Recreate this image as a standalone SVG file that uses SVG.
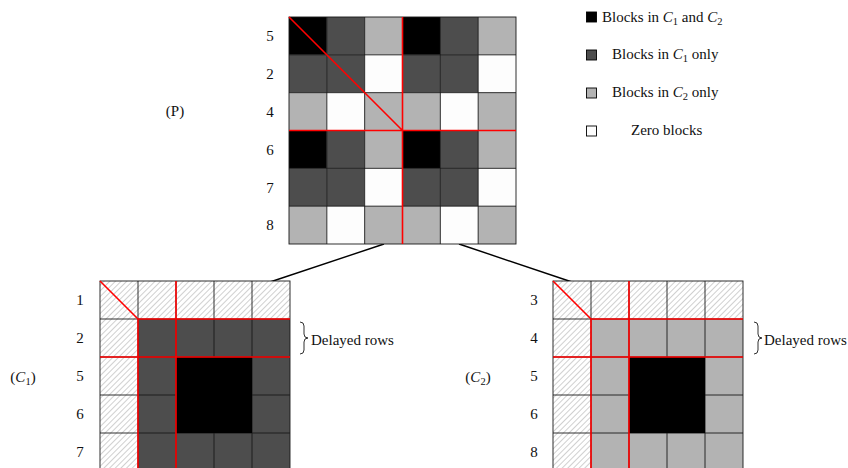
<svg xmlns="http://www.w3.org/2000/svg" width="848" height="468" viewBox="0 0 848 468">
<style>
text{font-family:"Liberation Serif","DejaVu Serif",serif;font-size:15px;fill:#111}
.lab{text-anchor:middle}
.it{font-style:italic}
.sub{font-size:10.5px}
.blk{fill:#000}
.drk{fill:#4d4d4d}
.lgt{fill:#b3b3b3}
.wht{fill:#fdfdfd}
.grid{stroke:#1a1a1a;stroke-width:0.9;fill:none}
.red{stroke:#f00;stroke-width:1.6;fill:none}
.conn{stroke:#000;stroke-width:1.4;fill:none}
.sq{stroke:#000;stroke-width:0.9}
</style>
<defs>
<pattern id="hatch" patternUnits="userSpaceOnUse" width="4" height="4" patternTransform="rotate(45)">
<rect width="4" height="4" fill="#fff"/>
<line x1="0" y1="0" x2="0" y2="4" stroke="#8a8a8a" stroke-width="0.8"/>
</pattern>
</defs>

<g id="connectors">
<line class="conn" x1="384" y1="244" x2="270" y2="282"/>
<line class="conn" x1="459" y1="244" x2="572" y2="282"/>
</g>

<g id="P">
<rect class="blk" x="289" y="17" width="37.83" height="37.83"/>
<rect class="drk" x="326.83" y="17" width="37.83" height="37.83"/>
<rect class="lgt" x="364.67" y="17" width="37.83" height="37.83"/>
<rect class="blk" x="402.5" y="17" width="37.83" height="37.83"/>
<rect class="drk" x="440.33" y="17" width="37.83" height="37.83"/>
<rect class="lgt" x="478.17" y="17" width="37.83" height="37.83"/>

<rect class="drk" x="289" y="54.83" width="37.83" height="37.83"/>
<rect class="drk" x="326.83" y="54.83" width="37.83" height="37.83"/>
<rect class="wht" x="364.67" y="54.83" width="37.83" height="37.83"/>
<rect class="drk" x="402.5" y="54.83" width="37.83" height="37.83"/>
<rect class="drk" x="440.33" y="54.83" width="37.83" height="37.83"/>
<rect class="wht" x="478.17" y="54.83" width="37.83" height="37.83"/>

<rect class="lgt" x="289" y="92.67" width="37.83" height="37.83"/>
<rect class="wht" x="326.83" y="92.67" width="37.83" height="37.83"/>
<rect class="lgt" x="364.67" y="92.67" width="37.83" height="37.83"/>
<rect class="lgt" x="402.5" y="92.67" width="37.83" height="37.83"/>
<rect class="wht" x="440.33" y="92.67" width="37.83" height="37.83"/>
<rect class="lgt" x="478.17" y="92.67" width="37.83" height="37.83"/>

<rect class="blk" x="289" y="130.5" width="37.83" height="37.83"/>
<rect class="drk" x="326.83" y="130.5" width="37.83" height="37.83"/>
<rect class="lgt" x="364.67" y="130.5" width="37.83" height="37.83"/>
<rect class="blk" x="402.5" y="130.5" width="37.83" height="37.83"/>
<rect class="drk" x="440.33" y="130.5" width="37.83" height="37.83"/>
<rect class="lgt" x="478.17" y="130.5" width="37.83" height="37.83"/>

<rect class="drk" x="289" y="168.33" width="37.83" height="37.83"/>
<rect class="drk" x="326.83" y="168.33" width="37.83" height="37.83"/>
<rect class="wht" x="364.67" y="168.33" width="37.83" height="37.83"/>
<rect class="drk" x="402.5" y="168.33" width="37.83" height="37.83"/>
<rect class="drk" x="440.33" y="168.33" width="37.83" height="37.83"/>
<rect class="wht" x="478.17" y="168.33" width="37.83" height="37.83"/>

<rect class="lgt" x="289" y="206.17" width="37.83" height="37.83"/>
<rect class="wht" x="326.83" y="206.17" width="37.83" height="37.83"/>
<rect class="lgt" x="364.67" y="206.17" width="37.83" height="37.83"/>
<rect class="lgt" x="402.5" y="206.17" width="37.83" height="37.83"/>
<rect class="wht" x="440.33" y="206.17" width="37.83" height="37.83"/>
<rect class="lgt" x="478.17" y="206.17" width="37.83" height="37.83"/>

<path class="grid" d="M326.83,17V244M364.67,17V244M440.33,17V244M478.17,17V244M289,54.83H516M289,92.67H516M289,168.33H516M289,206.17H516"/>
<rect class="grid" x="289" y="17" width="227" height="227"/>
<path class="red" d="M402.5,17V244M289,130.5H516M289,17L402.5,130.5"/>
<text class="lab" x="270" y="41">5</text>
<text class="lab" x="270" y="79">2</text>
<text class="lab" x="270" y="116.5">4</text>
<text class="lab" x="270" y="154.5">6</text>
<text class="lab" x="270" y="192.5">7</text>
<text class="lab" x="270" y="230">8</text>
<text class="lab" x="175" y="116">(P)</text>
</g>

<g id="legend">
<rect class="sq blk" x="586.5" y="12" width="10" height="10"/>
<text x="602" y="21.5">Blocks in <tspan class="it">C</tspan><tspan class="sub" dy="3">1</tspan><tspan dy="-3"> and </tspan><tspan class="it">C</tspan><tspan class="sub" dy="3">2</tspan></text>
<rect class="sq drk" x="586.5" y="50" width="10" height="10"/>
<text x="612" y="59">Blocks in <tspan class="it">C</tspan><tspan class="sub" dy="3">1</tspan><tspan dy="-3"> only</tspan></text>
<rect class="sq lgt" x="586.5" y="88" width="10" height="10"/>
<text x="612" y="96.5">Blocks in <tspan class="it">C</tspan><tspan class="sub" dy="3">2</tspan><tspan dy="-3"> only</tspan></text>
<rect class="sq wht" x="586.5" y="126" width="10" height="10"/>
<text x="631" y="135">Zero blocks</text>
</g>

<g id="C1">
<rect fill="url(#hatch)" x="100" y="281" width="190" height="38"/>
<rect fill="url(#hatch)" x="100" y="319" width="38" height="152"/>
<rect class="drk" x="138" y="319" width="152" height="152"/>
<path class="grid" d="M138,281V471M176,281V471M214,281V471M252,281V471M100,319H290M100,357H290M100,395H290M100,433H290"/>
<rect class="blk" x="176" y="357" width="76" height="76"/>
<rect class="grid" x="100" y="281" width="190" height="190"/>
<path class="red" d="M100,281L138,319M138,319H290M100,357H290M138,319V471M176,281V471"/>
<path class="grid" d="M300,322q4,0 4,4v8q0,4 4,4q-4,0 -4,4v8q0,4 -4,4" stroke-width="1"/>
<text x="311" y="345">Delayed rows</text>
<text class="lab" x="80" y="305">1</text>
<text class="lab" x="80" y="343">2</text>
<text class="lab" x="80" y="381">5</text>
<text class="lab" x="80" y="419">6</text>
<text class="lab" x="80" y="457">7</text>
<text class="lab" x="23" y="382">(<tspan class="it">C</tspan><tspan class="sub" dy="3">1</tspan><tspan dy="-3">)</tspan></text>
</g>

<g id="C2">
<rect fill="url(#hatch)" x="553" y="281" width="190" height="38"/>
<rect fill="url(#hatch)" x="553" y="319" width="38" height="152"/>
<rect class="lgt" x="591" y="319" width="152" height="152"/>
<path class="grid" d="M591,281V471M629,281V471M667,281V471M705,281V471M553,319H743M553,357H743M553,395H743M553,433H743"/>
<rect class="blk" x="629" y="357" width="76" height="76"/>
<rect class="grid" x="553" y="281" width="190" height="190"/>
<path class="red" d="M553,281L591,319M591,319H743M553,357H743M591,319V471M629,281V471"/>
<path class="grid" d="M754,322q4,0 4,4v8q0,4 4,4q-4,0 -4,4v8q0,4 -4,4" stroke-width="1"/>
<text x="764" y="345">Delayed rows</text>
<text class="lab" x="534" y="305">3</text>
<text class="lab" x="534" y="343">4</text>
<text class="lab" x="534" y="381">5</text>
<text class="lab" x="534" y="419">6</text>
<text class="lab" x="534" y="457">8</text>
<text class="lab" x="478" y="382">(<tspan class="it">C</tspan><tspan class="sub" dy="3">2</tspan><tspan dy="-3">)</tspan></text>
</g>
</svg>
